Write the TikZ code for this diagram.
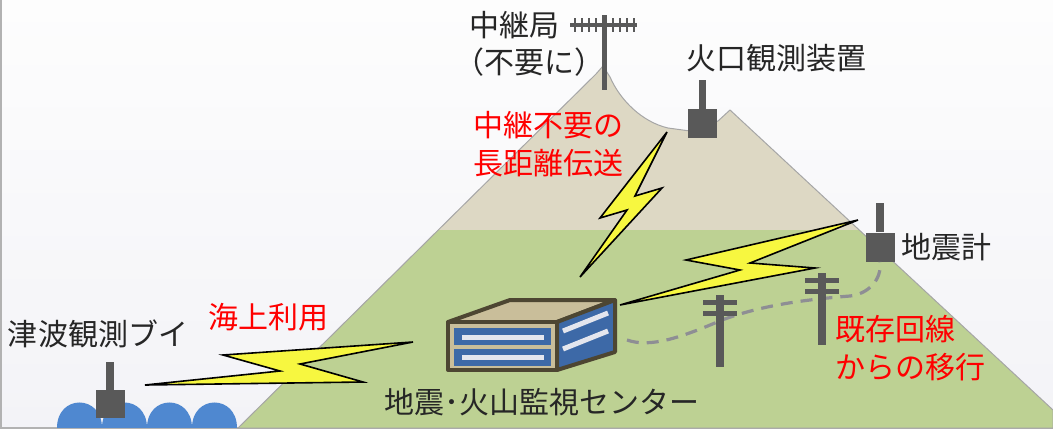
\documentclass[tikz,border=0pt]{standalone}
\usepackage{fontspec}
\setmainfont{Noto Sans CJK JP}
\usepackage{xcolor}
\usepackage{tikz}
\usetikzlibrary{positioning}
\definecolor{BgTop}{HTML}{FDFDFD}
\definecolor{BgBottom}{HTML}{F3F3F7}
\definecolor{MtGreen}{HTML}{BDD193}
\definecolor{MtBeige}{HTML}{DDD8C4}
\definecolor{SeaBlue}{HTML}{4F88D0}
\definecolor{DevGray}{HTML}{595959}
\definecolor{BoxEdge}{HTML}{4D4632}
\definecolor{BoxTop}{HTML}{C9BE9A}
\definecolor{PanelBlue}{HTML}{3D69A7}
\definecolor{PanelLine}{HTML}{E4E6EE}
\definecolor{BoltYellow}{HTML}{F7F740}
\definecolor{CableGray}{HTML}{8E8E94}

\newcommand{\mtpath}{(238,428) -- (596,74) -- (603,66) -- (610,77)
  .. controls (620,100) and (642,122) .. (668,128) -- (690,131) -- (718,121)
  -- (730,110) -- (1053,410) -- (1053,428) -- cycle}

\begin{document}
\begin{tikzpicture}[x=0.5pt, y=-0.5pt,
                    every node/.style={font=\fontsize{15}{19}\selectfont, inner sep=0pt, align=left},
                    txt/.style={text=black!85},
                    memo/.style={text=red},
                    devbox/.style={fill=DevGray, minimum width=14.5pt, minimum height=14.5pt},
                    mast/.style={draw=DevGray, line width=4pt},
                    pole/.style={draw=DevGray, line width=4pt},
                    bolt/.style={fill=BoltYellow, draw=black, line width=0.8pt, line join=miter},
                    cable/.style={draw=CableGray, line width=1.6pt, dash pattern=on 6pt off 4pt}]
\useasboundingbox (0,0) rectangle (1053,428);
\shade[top color=BgTop, bottom color=BgBottom] (0,0) rectangle (1053,428);
\draw[black!30, line width=1pt] (0.5,0) -- (0.5,427.5) -- (1053,427.5);

\fill[MtBeige] \mtpath;
\begin{scope}
  \clip \mtpath;
  \fill[MtGreen] (0,230) rectangle (1053,428);
\end{scope}
\draw[black!35, line width=0.5pt] \mtpath;

\foreach \x in {57,102,147,192}
  \fill[SeaBlue] (\x,428) .. controls (\x,394) and (\x+45,394) .. (\x+45,428) -- cycle;

% relay tower on the summit
\coordinate (relay) at (604.5,15);
\draw[DevGray, line width=2.5pt] (relay) -- (604.5,90);
\draw[DevGray, line width=2pt] (570,25) -- (637,25);
\foreach \x in {575,582,589,596,613,620,627,634}
  \draw[DevGray, line width=1.4pt] (\x,18) -- (\x,32);

\node[devbox] (seis) at (880,247) {};
\coordinate (hubport) at (627,340);
\draw[cable] (hubport) .. controls (650,348) and (680,338) .. (722,320)
  .. controls (760,306) and (800,300) .. (850,296)
  .. controls (868,294) and (882,280) .. (seis.south);

\foreach \px/\py in {720/295, 822/273} {
  \draw[pole] (\px,\py) -- (\px,\py+72);
  \draw[pole, line width=2.5pt] (\px-17,\py+7.5) -- (\px+17,\py+7.5);
  \draw[pole, line width=2.5pt] (\px-17,\py+18) -- (\px+17,\py+18);
}

% monitoring center
\begin{scope}[draw=BoxEdge, line width=2pt, line join=round]
  \filldraw[fill=BoxTop] (448,322) -- (510,300) -- (615,300) -- (557,322) -- cycle;
  \filldraw[fill=BoxTop] (448,322) rectangle (557,370);
  \filldraw[fill=PanelBlue] (557,322) -- (615,300) -- (615,352) -- (557,370) -- cycle;
\end{scope}
\fill[PanelBlue] (454,328) rectangle (551,345);
\fill[PanelBlue] (454,349) rectangle (551,366);
\fill[PanelLine] (462,334.5) rectangle (544,339.5);
\fill[PanelLine] (462,355) rectangle (544,360);
\draw[PanelLine, line width=2.5pt] (563,331) -- (608,313);
\draw[PanelLine, line width=2.5pt] (563,349) -- (608,331);
\coordinate (hub) at (542,402);

\filldraw[bolt] (667,132) -- (600,218) -- (627,210) -- (580,277) -- (662,188) -- (635,196) -- cycle;
\filldraw[bolt] (858,220) -- (686,260) -- (740,270) -- (620,305) -- (815,268) -- (750,263) -- cycle;
\filldraw[bolt] (413,342) -- (223,355) -- (280,371) -- (145,385) -- (363,382) -- (300,364) -- cycle;

\node[devbox] (volc) at (702.5,123.5) {};
\draw[mast, line width=3.5pt] (volc.north) -- ++(0,-29);
\draw[mast] (seis.north) -- ++(0,-29);
\node[devbox, minimum height=14pt] (buoy) at (110,404) {};
\draw[mast] (buoy.north) -- ++(0,-28);

\node[txt] (relaylbl) at (514,25) {中継局};
\node[txt] (relaynote) at (529,62) {（不要に）};
\node[txt] (volclbl) at (776,58) {火口観測装置};
\node[memo] (longhaul) at (548,144) {中継不要の\\長距離伝送};
\node[txt, right=3pt of seis] (seislbl) {地震計};
\node[memo, anchor=west] (migrate) at (835,348) {既存回線\\からの移行};
\node[txt] (buoylbl) at (98,334) {津波観測ブイ};
\node[memo] (marine) at (268,317) {海上利用};
\node[txt] (hublbl) at (hub) {地震･火山監視センター};
\end{tikzpicture}
\end{document}
